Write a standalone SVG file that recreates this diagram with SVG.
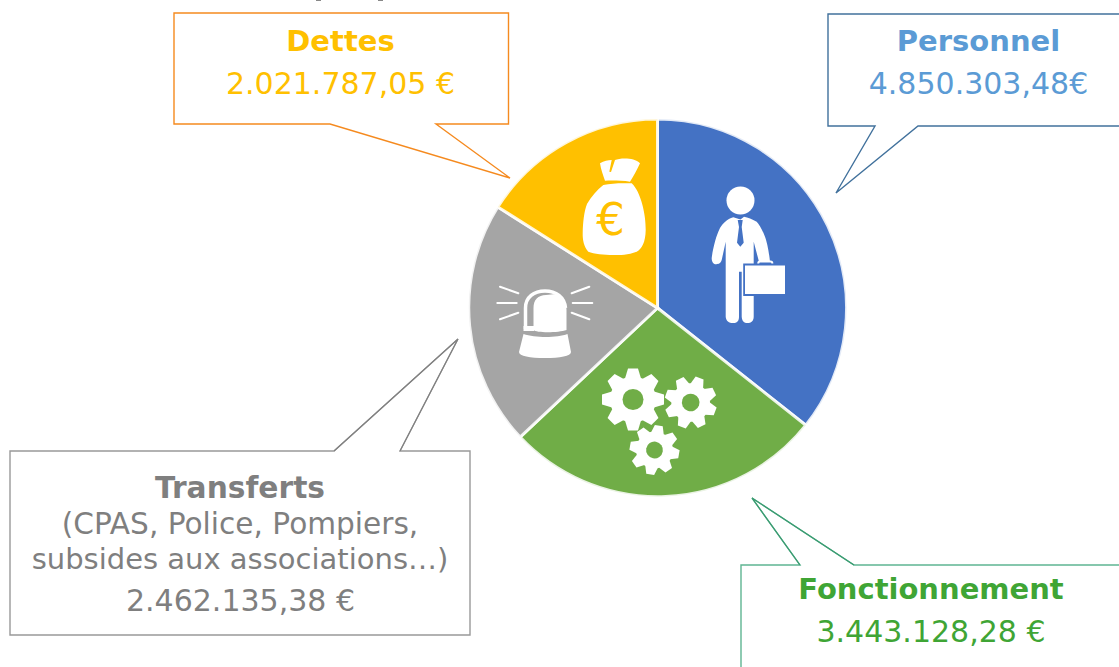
<svg xmlns="http://www.w3.org/2000/svg" width="1119" height="667" viewBox="0 0 1119 667">
<style>
text{font-family:"DejaVu Sans",Verdana,sans-serif;text-anchor:middle;font-size:29px}
.v{font-size:30px}
.b{font-weight:700}
.call{fill:#fff;stroke-width:1.4}
.slice{stroke:#fff;stroke-width:3;stroke-opacity:.85}
.ray{stroke:#fff;stroke-width:2;stroke-linecap:round;fill:none}
</style>
<defs>
<polygon id="tooth" fill="#fff" points="-8,-21 -5,-31 5,-31 8,-21"/>
<g id="gear">
<circle r="23" fill="#fff"/>
<use href="#tooth"/>
<use href="#tooth" transform="rotate(45)"/>
<use href="#tooth" transform="rotate(90)"/>
<use href="#tooth" transform="rotate(135)"/>
<use href="#tooth" transform="rotate(180)"/>
<use href="#tooth" transform="rotate(225)"/>
<use href="#tooth" transform="rotate(270)"/>
<use href="#tooth" transform="rotate(315)"/>
<circle r="10.500" fill="#70AD47"/>
</g>
</defs>
<rect width="1119" height="667" fill="#fff"/>
<g id="artifacts">
<rect x="316" y="0" width="5" height="1" fill="#888"/>
<rect x="378" y="0" width="5" height="1" fill="#888"/>
<rect x="287" y="621" width="5" height="2" fill="#f5a36a"/>
<rect x="60" y="621" width="12" height="1" fill="#fbe5d6"/>
<rect x="342" y="621" width="6" height="1" fill="#fbe5d6"/>
<rect x="369" y="621" width="5" height="1" fill="#fbe5d6"/>
</g>
<g id="pie">
<path class="slice" fill="#4472C4" d="M657.500 308V119A189 189 0 0 1 805.800 425.200Z"/>
<path class="slice" fill="#70AD47" d="M657.500 308L805.800 425.200A189 189 0 0 1 520.100 437.100Z"/>
<path class="slice" fill="#A5A5A5" d="M657.500 308L520.100 437.100A189 189 0 0 1 497.800 206.900Z"/>
<path class="slice" fill="#FFC000" d="M657.500 308L497.800 206.900A189 189 0 0 1 657.500 119Z"/>
</g>
<g id="icon-man">
<circle cx="740.500" cy="200.500" r="14" fill="#fff"/>
<path fill="#fff" d="M733.300 217.300C727 219 722.500 224 720 228C716 236 713 248 711.700 258C711.500 263 715 265 717 264C720 264 721 262 721.700 260L725.700 241.700V316.700C726 321 729 323 733 323C737 323 739 321 739 316.700V271.700H741.700V316.700C742 321 744 323 747.500 323C751 323 753.700 321 753.700 316.700V241.700L759 261.700H770C769 252 767 242 765 236.700C762 229 759 224 756.700 221.700C752 219 748 217.500 744 216.700L740.500 219.500Z"/>
<path fill="#4472C4" d="M737.700 220H742.700L741.700 227L743.700 242.700L740.300 246.700L737 242.700L739 227Z"/>
<path fill="none" stroke="#fff" stroke-width="2" d="M758.300 265V263C758.300 262 759 261.500 760 261.500H770.500C771.500 261.500 772.300 262 772.300 263V265"/>
<rect x="743.200" y="263.500" width="43" height="32.500" fill="#4472C4"/>
<rect x="745" y="265.500" width="40" height="28.500" fill="#fff"/>
</g>
<g id="icon-gears">
<use href="#gear" transform="translate(633 399.500)"/>
<use href="#gear" transform="translate(690.700 402.500) rotate(20) scale(.84)"/>
<use href="#gear" transform="translate(654.500 450) rotate(10) scale(.8)"/>
</g>
<g id="icon-siren">
<path fill="#fff" d="M533.500 330V308C533.500 300 538 295 546 295C552 295 557 293 560 296C564 300 566.500 304 566.500 310V330C558 333 536 333 533.500 330Z"/>
<path fill="none" stroke="#fff" stroke-width="3.500" d="M525.500 329V308C525.500 297 534 291 545 291C556 291 564.500 297 565.500 308"/>
<path fill="#fff" d="M523.500 326H534V331H523.500Z"/>
<path fill="#fff" d="M523.500 334C535 338 557 338 567.500 334L571 352C571 356 560 358 545 358C530 358 519 356 519 352Z"/>
<path class="ray" d="M500 286.700L518.300 293.300M497.300 303H516.700M500 319.300L518.300 312.700M571.700 293.300L589.300 286.700M572.700 303H592.300M571.700 312.700L589.300 319.300"/>
</g>
<g id="icon-bag">
<path fill="#fff" d="M600 163.300C604 161 608 160 611.700 160L609.300 171.700L611 172L615 160C620 158 634 157 640 163.300C637 170 633 177 630 181.700C622 180.500 612 180.500 605 180.700C603 175 601 170 600 163.300Z"/>
<path fill="#fff" d="M603.300 185C612 183 622 183 631.700 183.300C641 192 646 215 645.700 230C645.500 242 642 249 636.700 251.700C628 255 620 255 613.300 255C604 255 594 254 588.300 251.700C584 247 582.500 240 582.700 233.300C583 222 584 212 587 204C591 197 597 190 603.300 185Z"/>
<text x="610.500" y="235" style="font-size:45px;fill:#FFC000">€</text>
</g>
<g id="connectors">
<path class="call" stroke="#F58A1F" d="M174 13H508.500V124H436L510 178L330 124H174Z"/>
<path class="call" stroke="#41719C" d="M828 14H1125V126H918L836 193L875 126H828Z"/>
<path class="call" stroke="#5FB592" d="M741 565H800L752 498L854 565H1125V675H741Z"/>
<path fill="none" stroke="#3A9A70" stroke-width="1.200" d="M800 565L752 498L854 565"/>
<path class="call" stroke="#999" stroke-width="1.500" d="M10 451H334L458 339L400 451H470V635H10Z"/>
<path fill="none" stroke="#808080" stroke-width="1.100" d="M334 451L458 339L400 451"/>
</g>
<g id="label-dettes">
<text class="b" x="340.500" y="51" fill="#FFC000">Dettes</text>
<text class="v" x="340.500" y="94" fill="#FFC000">2.021.787,05 €</text>
</g>
<g id="label-personnel">
<text class="b" x="978.500" y="51" fill="#5B9BD5">Personnel</text>
<text class="v" x="978.500" y="94" fill="#5B9BD5">4.850.303,48€</text>
</g>
<g id="label-fonctionnement">
<text class="b" x="931" y="599" fill="#3FA535">Fonctionnement</text>
<text class="v" x="931" y="642" fill="#3FA535">3.443.128,28 €</text>
</g>
<g id="label-transferts">
<text class="b" x="240" y="498" fill="#7F7F7F" style="font-size:29.700px">Transferts</text>
<text x="240" y="534" fill="#7F7F7F" style="font-size:29.600px">(CPAS, Police, Pompiers,</text>
<text x="240" y="569" fill="#7F7F7F">subsides aux associations…)</text>
<text class="v" x="240.500" y="611" fill="#7F7F7F">2.462.135,38 €</text>
</g>
</svg>
